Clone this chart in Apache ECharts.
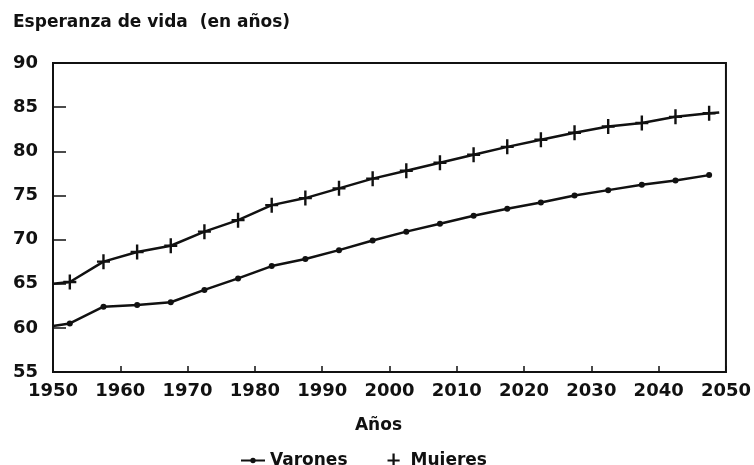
<!DOCTYPE html>
<html>
<head>
<meta charset="utf-8">
<script src="https://cdn.jsdelivr.net/npm/echarts@6/dist/echarts.min.js"></script>
<style>html,body{margin:0;padding:0;background:#fff}#c{width:754px;height:465px}</style>
</head>
<body>
<div id="c"></div>
<script>
const years = [1952.5,1957.5,1962.5,1967.5,1972.5,1977.5,1982.5,1987.5,1992.5,1997.5,2002.5,2007.5,2012.5,2017.5,2022.5,2027.5,2032.5,2037.5,2042.5,2047.5];
const varones = [60.5,62.4,62.6,62.9,64.3,65.6,67.0,67.8,68.8,69.9,70.9,71.8,72.7,73.5,74.2,75.0,75.6,76.2,76.7,77.3];
const mujeres = [65.2,67.5,68.6,69.3,70.9,72.2,73.9,74.7,75.8,76.9,77.8,78.7,79.6,80.5,81.3,82.1,82.8,83.2,83.9,84.3];
const varonesStart = [1950, 60.2];
const mujeresStart = [1950, 65.0];
const mujeresEnd = [2049, 84.4];
const yTicks = [55,60,65,70,75,80,85,90];

const FONT = 'DejaVu Sans';
const plusPath = 'path://M-1.2,-7.5 H1.2 V-1.2 H6.5 V1.2 H1.2 V7.5 H-1.2 V1.2 H-6.5 V-1.2 H-1.2 Z';
const dotLinePath = 'path://M0,8.8 H24 V10.6 H0 Z M12,7 A2.7,2.7 0 1,1 11.99,7 Z';

function pts(xs, ys){ return xs.map((x,i)=>[x, ys[i]]); }
const vData = [{value: varonesStart, symbol:'none'}].concat(pts(years, varones));
const mData = [{value: mujeresStart, symbol:'none'}].concat(pts(years, mujeres)).concat([{value: mujeresEnd, symbol:'none'}]);

const chart = echarts.init(document.getElementById('c'), null, {renderer:'canvas'});
chart.setOption({
  animation:false,
  backgroundColor:'#fff',
  title:{
    text:'Esperanza de vida  (en años)',
    left:8, top:9,
    textStyle:{fontFamily:FONT, fontWeight:'bold', fontSize:17, color:'#111'}
  },
  grid:{left:53, right:26, top:63, bottom:93, show:true, borderColor:'#111', borderWidth:2, backgroundColor:'transparent'},
  legend:{
    top:447, left:236, itemGap:40, itemWidth:24, itemHeight:14, symbolKeepAspect:true,
    textStyle:{fontFamily:FONT, fontWeight:'bold', fontSize:17, color:'#111'},
    data:[{name:'Varones', icon: dotLinePath},{name:'Mujeres', icon: plusPath}]
  },
  xAxis:{
    type:'value', min:1950, max:2050, interval:10,
    name:'Años', nameLocation:'middle', nameGap:45,
    nameTextStyle:{fontFamily:FONT, fontWeight:'bold', fontSize:17, color:'#111', padding:[0,22,0,0]},
    axisLine:{show:true, lineStyle:{color:'#111', width:2}},
    axisTick:{show:true, inside:true, length:6, lineStyle:{color:'#111', width:1.5}},
    axisLabel:{fontFamily:FONT, fontWeight:'bold', fontSize:18, color:'#111', margin:10,
      formatter:v=>String(v)},
    splitLine:{show:false}
  },
  yAxis:{
    type:'value', min:55, max:90, interval:5,
    axisLine:{show:true, lineStyle:{color:'#111', width:2}},
    axisTick:{show:true, inside:true, length:13, lineStyle:{color:'#111', width:1.5}},
    axisLabel:{fontFamily:FONT, fontWeight:'bold', fontSize:18, color:'#111', margin:15,
      formatter:v=> yTicks.includes(v) ? String(v) : '', padding:[0,0,5,0]},
    splitLine:{show:false}
  },
  series:[
    {name:'Varones', type:'line', data:vData, symbol:'circle', symbolSize:6,
      lineStyle:{color:'#111', width:2.5}, itemStyle:{color:'#111'}, showAllSymbol:true},
    {name:'Mujeres', type:'line', data:mData, symbol:plusPath, symbolSize:[13,15],
      lineStyle:{color:'#111', width:2.5}, itemStyle:{color:'#111'}, showAllSymbol:true}
  ]
});
</script>
</body>
</html>
